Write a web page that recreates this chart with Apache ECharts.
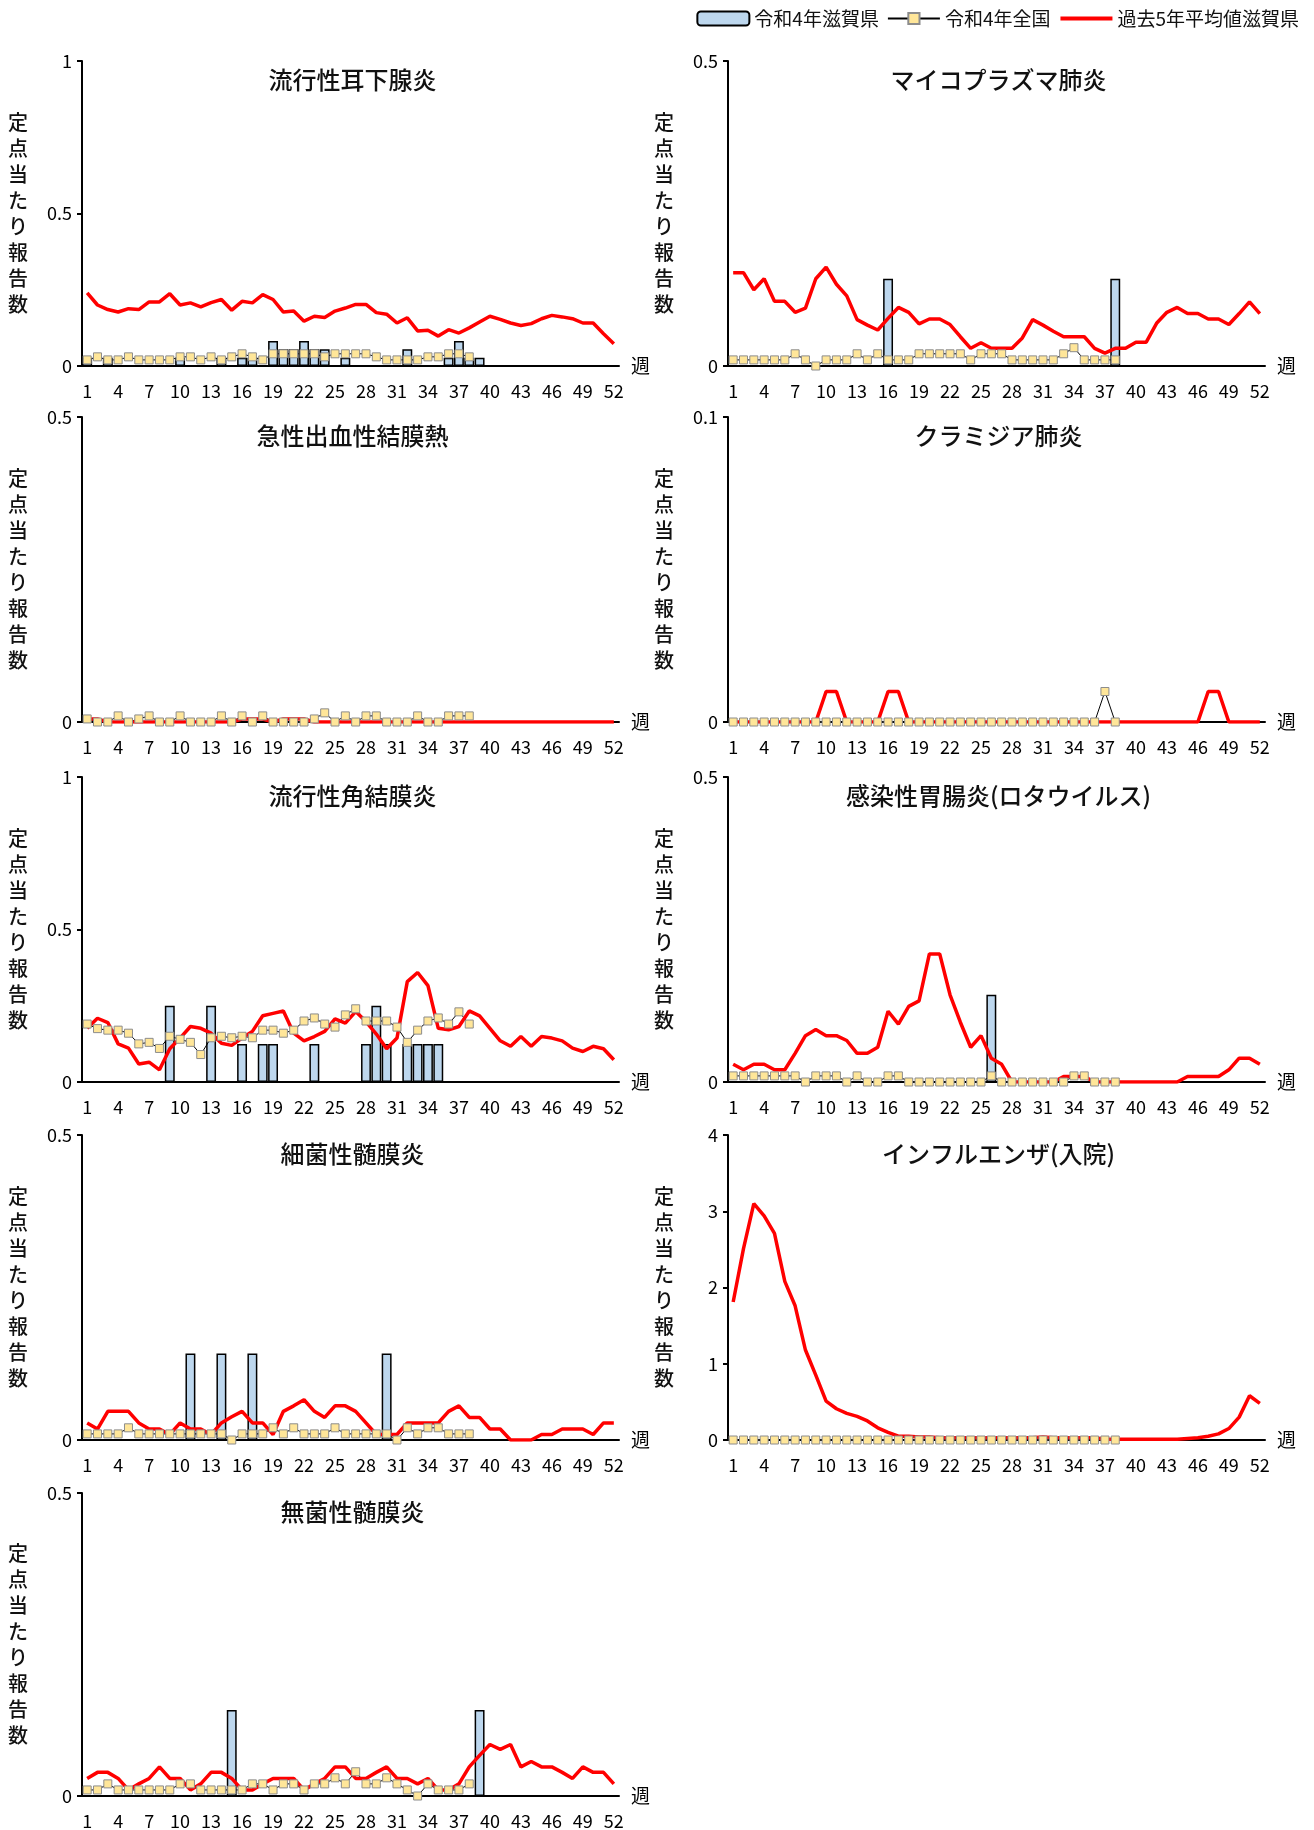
<!DOCTYPE html>
<html>
<head>
<meta charset="utf-8">
<script src="https://cdn.jsdelivr.net/npm/echarts@6/dist/echarts.min.js"></script>
<style>
  html, body { margin: 0; padding: 0; background: #fff; }
  #chart { width: 1314px; height: 1830px; }
</style>
</head>
<body>
<div id="chart"></div>
<script>
// 週ラベル
const weeks = Array.from({ length: 52 }, (_, i) => String(i + 1));

// 各疾患のデータ（滋賀県2022 / 全国2022 / 過去5年平均滋賀県）
const mumpsShiga = [0.027,0,0.027,0,0,0,0,0,0,0.027,0,0,0,0.027,0,0.027,0.027,0,0.082,0.055,0.055,0.082,0.055,0.055,0,0.027,0,0,0,0,0,0.055,0,0,0,0.027,0.082,0.027,0.027];
const mumpsJapan = [0.02,0.03,0.02,0.02,0.03,0.02,0.02,0.02,0.02,0.03,0.03,0.02,0.03,0.02,0.03,0.04,0.03,0.02,0.04,0.04,0.04,0.04,0.04,0.03,0.04,0.04,0.04,0.04,0.03,0.02,0.02,0.02,0.02,0.03,0.03,0.04,0.04,0.03];
const mumpsAvg = [0.24,0.2,0.185,0.177,0.188,0.185,0.21,0.21,0.237,0.2,0.207,0.194,0.208,0.218,0.183,0.212,0.207,0.234,0.218,0.177,0.18,0.147,0.163,0.159,0.18,0.19,0.202,0.202,0.175,0.17,0.141,0.158,0.115,0.117,0.098,0.119,0.108,0.125,0.144,0.163,0.153,0.141,0.133,0.139,0.155,0.166,0.161,0.155,0.141,0.141,0.106,0.073];

const mycoShiga = [0,0,0,0,0,0,0,0,0,0,0,0,0,0,0,0.143,0,0,0,0,0,0,0,0,0,0,0,0,0,0,0,0,0,0,0,0,0,0.143];
const mycoJapan = [0.01,0.01,0.01,0.01,0.01,0.01,0.02,0.01,0,0.01,0.01,0.01,0.02,0.01,0.02,0.01,0.01,0.01,0.02,0.02,0.02,0.02,0.02,0.01,0.02,0.02,0.02,0.01,0.01,0.01,0.01,0.01,0.02,0.03,0.01,0.01,0.01,0.01];
const mycoAvg = [0.153,0.153,0.125,0.143,0.106,0.106,0.088,0.095,0.143,0.162,0.134,0.115,0.076,0.067,0.059,0.078,0.096,0.088,0.069,0.077,0.077,0.068,0.048,0.029,0.038,0.029,0.029,0.029,0.046,0.076,0.067,0.057,0.048,0.048,0.048,0.029,0.021,0.029,0.029,0.039,0.039,0.07,0.088,0.096,0.086,0.086,0.077,0.077,0.068,0.086,0.105,0.086];

const ahcShiga = [];
const ahcJapan = [0.005,0,0,0.01,0,0.005,0.01,0,0,0.01,0,0,0,0.01,0,0.01,0,0.01,0,0,0,0,0.005,0.015,0,0.01,0,0.01,0.01,0,0,0,0.01,0,0,0.01,0.01,0.01];
const ahcAvg = [0.005,0.005,0,0,0,0,0,0,0,0,0,0,0,0,0,0.005,0.005,0.005,0,0.005,0.005,0.005,0,0,0,0,0,0,0,0,0,0,0,0,0,0,0,0,0,0,0,0,0,0,0,0,0,0,0,0,0,0];

const chlaShiga = [];
const chlaJapan = [0,0,0,0,0,0,0,0,0,0,0,0,0,0,0,0,0,0,0,0,0,0,0,0,0,0,0,0,0,0,0,0,0,0,0,0,0.01,0];
const chlaAvg = [0,0,0,0,0,0,0,0,0,0.01,0.01,0,0,0,0,0.01,0.01,0,0,0,0,0,0,0,0,0,0,0,0,0,0,0,0,0,0,0,0,0,0,0,0,0,0,0,0,0,0.01,0.01,0,0,0,0];

const ekcShiga = [0,0,0,0,0,0,0,0,0.25,0,0,0,0.25,0,0,0.125,0,0.125,0.125,0,0,0,0.125,0,0,0,0,0.125,0.25,0.125,0,0.125,0.125,0.125,0.125];
const ekcJapan = [0.19,0.175,0.17,0.17,0.16,0.125,0.13,0.11,0.15,0.14,0.13,0.09,0.145,0.15,0.145,0.15,0.145,0.17,0.17,0.16,0.17,0.2,0.21,0.19,0.18,0.22,0.24,0.2,0.2,0.2,0.18,0.13,0.17,0.2,0.21,0.19,0.23,0.19];
const ekcAvg = [0.176,0.209,0.195,0.125,0.111,0.059,0.065,0.04,0.109,0.144,0.182,0.176,0.16,0.127,0.12,0.144,0.166,0.217,0.225,0.233,0.16,0.135,0.149,0.166,0.207,0.193,0.231,0.198,0.157,0.109,0.144,0.329,0.359,0.316,0.176,0.171,0.182,0.233,0.217,0.176,0.135,0.117,0.149,0.117,0.149,0.144,0.135,0.111,0.1,0.117,0.109,0.073];

const rotaShiga = [0,0,0,0,0,0,0,0,0,0,0,0,0,0,0,0,0,0,0,0,0,0,0,0,0,0.143];
const rotaJapan = [0.01,0.01,0.01,0.01,0.01,0.01,0.01,0,0.01,0.01,0.01,0,0.01,0,0,0.01,0.01,0,0,0,0,0,0,0,0,0.01,0,0,0,0,0,0,0,0.01,0.01,0,0,0];
const rotaAvg = [0.029,0.02,0.029,0.029,0.02,0.02,0.047,0.076,0.086,0.076,0.076,0.068,0.047,0.047,0.057,0.116,0.095,0.124,0.133,0.21,0.21,0.143,0.098,0.057,0.076,0.039,0.029,0,0,0,0,0,0.009,0.009,0.009,0,0,0,0,0,0,0,0,0,0.009,0.009,0.009,0.009,0.02,0.039,0.039,0.029];

const bmShiga = [0,0,0,0,0,0,0,0,0,0,0.142,0,0,0.142,0,0,0.142,0,0,0,0,0,0,0,0,0,0,0,0,0.142];
const bmJapan = [0.01,0.01,0.01,0.01,0.02,0.01,0.01,0.01,0.01,0.01,0.01,0.01,0.01,0.01,0,0.01,0.01,0.01,0.02,0.01,0.02,0.01,0.01,0.01,0.02,0.01,0.01,0.01,0.01,0.01,0,0.02,0.01,0.02,0.02,0.01,0.01,0.01];
const bmAvg = [0.028,0.018,0.047,0.047,0.047,0.028,0.018,0.018,0.009,0.028,0.018,0.018,0.009,0.028,0.038,0.047,0.028,0.028,0.009,0.047,0.056,0.066,0.047,0.037,0.056,0.056,0.047,0.028,0.009,0.009,0.009,0.028,0.028,0.028,0.028,0.047,0.056,0.037,0.037,0.018,0.018,0,0,0,0.009,0.009,0.018,0.018,0.018,0.009,0.028,0.028];

const amShiga = [0,0,0,0,0,0,0,0,0,0,0,0,0,0,0.142,0,0,0,0,0,0,0,0,0,0,0,0,0,0,0,0,0,0,0,0,0,0,0,0.142];
const amJapan = [0.01,0.01,0.02,0.01,0.01,0.01,0.01,0.01,0.01,0.02,0.02,0.01,0.01,0.01,0.01,0.01,0.02,0.02,0.01,0.02,0.02,0.01,0.02,0.02,0.03,0.02,0.04,0.02,0.02,0.03,0.02,0.01,0,0.02,0.01,0.01,0.01,0.02];
const amAvg = [0.029,0.039,0.039,0.029,0.01,0.02,0.029,0.048,0.029,0.029,0.01,0.02,0.039,0.039,0.029,0.01,0.01,0.02,0.029,0.029,0.029,0.01,0.02,0.029,0.048,0.048,0.029,0.029,0.039,0.048,0.029,0.029,0.02,0.029,0.01,0.01,0.02,0.048,0.067,0.085,0.077,0.085,0.048,0.057,0.048,0.048,0.039,0.029,0.048,0.039,0.039,0.02];

const fluShiga = [];
const fluJapan = [0,0,0,0,0,0,0,0,0,0,0,0,0,0,0,0,0,0,0,0,0,0,0,0,0,0,0,0,0,0,0,0,0,0,0,0,0,0];
const fluAvg = [1.81,2.51,3.1,2.94,2.71,2.08,1.76,1.18,0.85,0.51,0.41,0.35,0.31,0.25,0.16,0.1,0.05,0.05,0.04,0.04,0.03,0.03,0.03,0.03,0.03,0.03,0.03,0.03,0.03,0.03,0.04,0.03,0.03,0.03,0.03,0.03,0.01,0.01,0.01,0.01,0.01,0.01,0.01,0.01,0.02,0.03,0.05,0.08,0.15,0.3,0.58,0.48];

const panels = [
  { title: '流行性耳下腺炎', max: 1, interval: 0.5, shiga: mumpsShiga, japan: mumpsJapan, avg: mumpsAvg },
  { title: 'マイコプラズマ肺炎', max: 0.5, interval: 0.5, shiga: mycoShiga, japan: mycoJapan, avg: mycoAvg },
  { title: '急性出血性結膜熱', max: 0.5, interval: 0.5, shiga: ahcShiga, japan: ahcJapan, avg: ahcAvg },
  { title: 'クラミジア肺炎', max: 0.1, interval: 0.1, shiga: chlaShiga, japan: chlaJapan, avg: chlaAvg },
  { title: '流行性角結膜炎', max: 1, interval: 0.5, shiga: ekcShiga, japan: ekcJapan, avg: ekcAvg },
  { title: '感染性胃腸炎(ロタウイルス)', max: 0.5, interval: 0.5, shiga: rotaShiga, japan: rotaJapan, avg: rotaAvg },
  { title: '細菌性髄膜炎', max: 0.5, interval: 0.5, shiga: bmShiga, japan: bmJapan, avg: bmAvg },
  { title: 'インフルエンザ(入院)', max: 4, interval: 1, shiga: fluShiga, japan: fluJapan, avg: fluAvg },
  { title: '無菌性髄膜炎', max: 0.5, interval: 0.5, shiga: amShiga, japan: amJapan, avg: amAvg }
];

const FONT = '"Noto Sans CJK JP", sans-serif';
const lefts = [82, 728];
const tops = [61, 417, 777, 1135, 1493];
const W = 537, H = 305;

const grid = [], xAxis = [], yAxis = [], series = [], title = [];

panels.forEach((p, i) => {
  const left = lefts[i % 2], top = tops[Math.floor(i / 2)];
  grid.push({ left, top, width: W, height: H });
  title.push({
    text: p.title, left: left + W / 2 - 3, top: top + 2, textAlign: 'center',
    textStyle: { fontFamily: FONT, fontSize: 24, fontWeight: 500, color: '#111' }
  });
  xAxis.push({
    type: 'category', gridIndex: i, data: weeks,
    name: '週', nameLocation: 'end', nameGap: 12,
    nameTextStyle: { fontFamily: FONT, fontSize: 19, color: '#000', padding: [34, 0, 0, 0] },
    axisLine: { lineStyle: { color: '#000', width: 2 } },
    axisTick: { inside: true, interval: 2, length: 6, lineStyle: { color: '#000', width: 2 } },
    axisLabel: { interval: 2, fontFamily: FONT, fontSize: 18, color: '#000', margin: 16 }
  });
  yAxis.push({
    type: 'value', gridIndex: i, min: 0, max: p.max, interval: p.interval,
    name: '定\n点\n当\nた\nり\n報\n告\n数', nameLocation: 'middle', nameRotate: 0, nameGap: 54,
    nameTextStyle: { fontFamily: FONT, fontSize: 20, fontWeight: 500, color: '#111', lineHeight: 26 },
    splitLine: { show: false },
    axisLine: { show: true, lineStyle: { color: '#000', width: 2 } },
    axisTick: { show: true, length: 5, lineStyle: { color: '#000', width: 2 } },
    axisLabel: { fontFamily: FONT, fontSize: 18, color: '#000', margin: 10 }
  });
  series.push({
    name: '令和4年滋賀県', type: 'bar', xAxisIndex: i, yAxisIndex: i, data: p.shiga,
    barCategoryGap: '4%',
    itemStyle: { color: '#bdd7ee', borderColor: '#000', borderWidth: 1.5 }
  });
  series.push({
    name: '令和4年全国', type: 'line', xAxisIndex: i, yAxisIndex: i, data: p.japan,
    symbol: 'rect', symbolSize: 8, showAllSymbol: true,
    lineStyle: { color: '#000', width: 1 },
    itemStyle: { color: '#ffe699', borderColor: '#8c8c8c', borderWidth: 1 }
  });
  series.push({
    name: '過去5年平均値滋賀県', type: 'line', xAxisIndex: i, yAxisIndex: i, data: p.avg,
    symbol: 'none', lineStyle: { color: '#ff0000', width: 3.5 }, itemStyle: { color: '#ff0000' }
  });
});

const chart = echarts.init(document.getElementById('chart'));
chart.setOption({
  animation: false,
  backgroundColor: '#fff',
  title,
  legend: {
    top: 4, right: 10, itemWidth: 52, itemHeight: 14, itemGap: 8,
    textStyle: { fontFamily: FONT, fontSize: 19, color: '#111' },
    data: [
      { name: '令和4年滋賀県' },
      { name: '令和4年全国' },
      { name: '過去5年平均値滋賀県', itemStyle: { opacity: 0 }, lineStyle: { width: 4, color: '#ff0000' } }
    ]
  },
  grid, xAxis, yAxis, series
});
</script>
</body>
</html>
